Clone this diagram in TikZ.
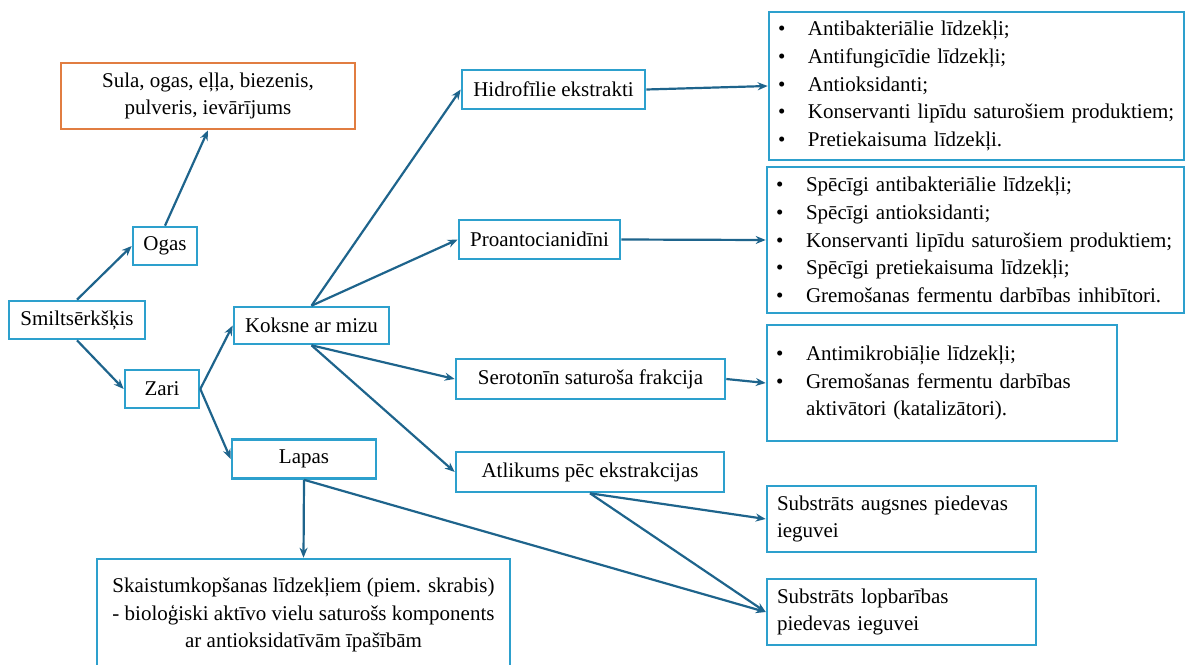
\documentclass[tikz,border=0pt]{standalone}
\usepackage{fontspec}
\setmainfont{Liberation Serif}
\usetikzlibrary{arrows.meta,positioning}
\definecolor{boxcol}{RGB}{45,160,205}
\definecolor{arrcol}{RGB}{30,100,140}
\definecolor{prodcol}{RGB}{225,125,65}
\newcommand{\bitem}{\makebox[30pt][l]{\textbullet}}

\begin{document}
\begin{tikzpicture}[
    x=1pt, y=-1pt,
    >={Stealth[length=10pt, width=8pt]},
    box/.style={rectangle, draw=boxcol, line width=2.6pt, fill=white, align=center, inner sep=0pt, font=\fontsize{21}{27.6}\selectfont},
    listbox/.style={box, align=left, inner xsep=9pt},
    link/.style={->, arrcol, line width=2.2pt},
]
\useasboundingbox (0,0) rectangle (1185,664);

% left part
\node[box, minimum width=136pt, minimum height=38pt] (smilts) at (77,320) {Smiltsērkšķis};
\node[box, minimum width=64pt, minimum height=38pt] (ogas) at (165,246) {Ogas};
\node[box, draw=prodcol, minimum width=294pt, minimum height=66pt] (sula) at (208,96) {Sula, ogas, eļļa, biezenis,\\pulveris, ievārījums};
\node[box, minimum width=74pt, minimum height=38pt] (zari) at (162,389) {Zari};
\node[box, minimum width=155pt, minimum height=37pt] (koksne) at (311.5,325.5) {Koksne ar mizu};
\node[box, minimum width=144pt, minimum height=39pt] (lapas) at (304,459) {Lapas};
\node[box, minimum width=413pt, minimum height=112pt] (skaist) at (303.5,615) {Skaistumkopšanas līdzekļiem (piem. skrabis)\\- bioloģiski aktīvo vielu saturošs komponents\\ar antioksidatīvām īpašībām};

% fractions
\node[box, minimum width=183pt, minimum height=39pt] (hidro) at (553.5,89.5) {Hidrofīlie ekstrakti};
\node[box, minimum width=161pt, minimum height=39pt] (proanto) at (539.5,239.5) {Proantocianidīni};
\node[box, minimum width=269pt, minimum height=40pt] (sero) at (590.5,379) {Serotonīn saturoša frakcija};
\node[box, minimum width=268pt, minimum height=40pt] (atlik) at (590,472) {Atlikums pēc ekstrakcijas};

% uses
\node[listbox, text width=397pt, minimum height=148pt] (eff1) at (976.5,86) {\bitem Antibakteriālie līdzekļi;\\\bitem Antifungicīdie līdzekļi;\\\bitem Antioksidanti;\\\bitem Konservanti lipīdu saturošiem produktiem;\\\bitem Pretiekaisuma līdzekļi.};
\node[listbox, text width=399pt, minimum height=146pt] (eff2) at (975.5,240) {\bitem Spēcīgi antibakteriālie līdzekļi;\\\bitem Spēcīgi antioksidanti;\\\bitem Konservanti lipīdu saturošiem produktiem;\\\bitem Spēcīgi pretiekaisuma līdzekļi;\\\bitem Gremošanas fermentu darbības inhibītori.};
\node[listbox, text width=332pt, minimum height=116pt] (eff3) at (942,383) {\bitem Antimikrobiāļie līdzekļi;\\\bitem Gremošanas fermentu darbības\\\hspace*{30pt}aktivātori (katalizātori).};
\node[listbox, inner xsep=10pt, text width=249pt, minimum height=66pt] (subst1) at (901.5,519) {Substrāts augsnes piedevas\\ieguvei};
\node[listbox, inner xsep=10pt, text width=249pt, minimum height=66pt] (subst2) at (901.5,612) {Substrāts lopbarības\\piedevas ieguvei};

% connectors
\draw[link] (smilts.north) -- (ogas.west);
\draw[link] (ogas.north) -- (sula.south);
\draw[link] (smilts.south) -- (zari.west);
\draw[link] (zari.east) -- (koksne.west);
\draw[link] (zari.east) -- (lapas.west);
\draw[link] (koksne.north) -- (hidro.west);
\draw[link] (koksne.north) -- (proanto.west);
\draw[link] (koksne.south) -- (sero.west);
\draw[link] (koksne.south) -- (atlik.west);
\draw[link] (hidro.east) -- (eff1.west);
\draw[link] (proanto.east) -- (eff2.west);
\draw[link] (sero.east) -- (eff3.west);
\draw[link] (atlik.south) -- (subst1.west);
\draw[link] (atlik.south) -- (subst2.west);
\draw[link] (lapas.south) -- (subst2.west);
\draw[link] (lapas.south) -- (skaist.north);
\end{tikzpicture}
\end{document}
